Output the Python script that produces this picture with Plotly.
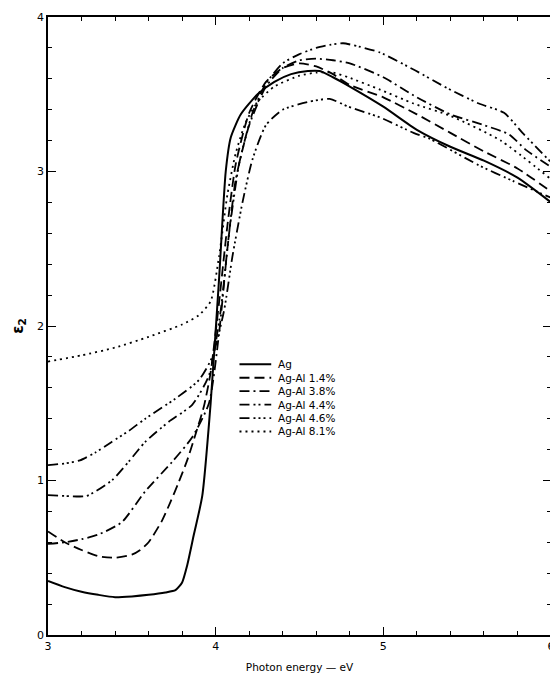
import plotly.graph_objects as go

# ---------------- data ----------------
ag_x = [3.0, 3.1, 3.2, 3.3, 3.4, 3.5, 3.6, 3.7, 3.76, 3.8, 3.83, 3.87, 3.92, 3.97, 4.02, 4.06, 4.09,
        4.15, 4.25, 4.35, 4.45, 4.55, 4.62, 4.7, 4.8, 5.0, 5.2, 5.4, 5.6, 5.8, 6.0]
ag_y = [0.35, 0.31, 0.28, 0.26, 0.245, 0.25, 0.26, 0.275, 0.29, 0.34, 0.45, 0.65, 0.9, 1.5, 2.3, 3.0, 3.22,
        3.37, 3.5, 3.58, 3.63, 3.65, 3.65, 3.61, 3.55, 3.42, 3.27, 3.16, 3.07, 2.96, 2.8]

al14_x = [3.0, 3.1, 3.2, 3.3, 3.4, 3.5, 3.55, 3.6, 3.68, 3.73, 3.78, 3.83, 3.88, 3.93, 3.97, 4.02, 4.07,
          4.12, 4.2, 4.3, 4.4, 4.5, 4.6, 4.7, 4.8, 5.0, 5.2, 5.4, 5.6, 5.8, 6.0]
al14_y = [0.67, 0.6, 0.55, 0.51, 0.5, 0.52, 0.55, 0.6, 0.74, 0.86, 0.99, 1.13, 1.3, 1.48, 1.7, 2.15, 2.65,
          3.05, 3.38, 3.58, 3.67, 3.7, 3.68, 3.63, 3.56, 3.48, 3.37, 3.25, 3.13, 3.02, 2.87]

al38_x = [3.0, 3.1, 3.2, 3.3, 3.44, 3.58, 3.74, 3.86, 3.96, 4.02, 4.07, 4.12, 4.2, 4.3, 4.4, 4.5, 4.6,
          4.7, 4.8, 5.0, 5.2, 5.4, 5.6, 5.75, 5.85, 6.0]
al38_y = [0.59, 0.6, 0.62, 0.65, 0.73, 0.93, 1.12, 1.28, 1.5, 1.95, 2.5, 2.95, 3.3, 3.55, 3.67, 3.72, 3.73,
          3.72, 3.7, 3.61, 3.48, 3.37, 3.3, 3.24, 3.14, 3.03]

al44_x = [3.0, 3.1, 3.23, 3.38, 3.48, 3.58, 3.72, 3.86, 3.96, 4.03, 4.08, 4.14, 4.22, 4.3, 4.4, 4.5, 4.6,
          4.68, 4.76, 4.85, 4.98, 5.18, 5.38, 5.57, 5.72, 5.83, 6.0]
al44_y = [0.905, 0.9, 0.9, 1.0, 1.12, 1.25, 1.38, 1.49, 1.68, 2.1, 2.6, 3.05, 3.38, 3.57, 3.7, 3.76, 3.8,
          3.82, 3.83, 3.81, 3.77, 3.66, 3.54, 3.44, 3.38, 3.25, 3.06]

al46_x = [3.0, 3.1, 3.19, 3.28, 3.38, 3.48, 3.58, 3.76, 3.9, 3.98, 4.05, 4.1, 4.16, 4.22, 4.3, 4.4, 4.55,
          4.68, 4.79, 4.98, 5.18, 5.28, 5.57, 5.77, 6.0]
al46_y = [1.1, 1.11, 1.13, 1.18, 1.25, 1.32, 1.4, 1.53, 1.65, 1.8, 2.1, 2.45, 2.8, 3.08, 3.3, 3.4, 3.45,
          3.47, 3.42, 3.35, 3.25, 3.21, 3.04, 2.94, 2.83]

al81_x = [3.0, 3.2, 3.4, 3.6, 3.8, 3.9, 3.97, 4.02, 4.07, 4.12, 4.18, 4.25, 4.35, 4.5, 4.6, 4.7, 4.79,
          4.98, 5.18, 5.4, 5.7, 6.0]
al81_y = [1.77, 1.81, 1.86, 1.93, 2.01, 2.07, 2.16, 2.45, 2.85, 3.12, 3.32, 3.45, 3.55, 3.62, 3.64, 3.64,
          3.61, 3.53, 3.44, 3.36, 3.2, 2.95]

series_names = ["Ag", "Ag-Al 1.4%", "Ag-Al 3.8%", "Ag-Al 4.4%", "Ag-Al 4.6%", "Ag-Al 8.1%"]
x_ticks = [3, 4, 5, 6]
y_ticks = [0, 1, 2, 3, 4]

# ---------------- figure ----------------
# the page body has an 8px margin, so the figure is drawn 8px in from the window corner
OFF = 8
W, H = 550, 667
L, R, T, B = 40, 3, 8, 38
PW, PH = W - L - R, H - T - B

dashes = ["solid", "10px,5px", "10px,4px,2px,4px", "10px,4px,2px,3px,2px,4px",
          "10px,4px,2px,3px,2px,3px,2px,4px", "2px,4px"]
widths = [2.0, 1.8, 1.8, 1.8, 1.8, 1.8]
data = [(ag_x, ag_y), (al14_x, al14_y), (al38_x, al38_y), (al44_x, al44_y),
        (al46_x, al46_y), (al81_x, al81_y)]

fig = go.Figure()
for (xs, ys), name, d, w in zip(data, series_names, dashes, widths):
    fig.add_trace(go.Scatter(x=xs, y=ys, mode="lines", name=name,
                             line=dict(color="black", width=w, dash=d, shape="spline", smoothing=0.6),
                             showlegend=False))

FONT = "DejaVu Sans, Liberation Sans, Arial, sans-serif"

def px_to_paper_x(px):
    return (px - OFF - L) / PW

def px_to_paper_y(py):
    return (H - B - (py - OFF)) / PH

shapes = []
annotations = []
for i, (name, d, w) in enumerate(zip(series_names, dashes, widths)):
    py = 365 + 13.5 * i
    shapes.append(dict(type="line", xref="paper", yref="paper",
                       x0=px_to_paper_x(241), x1=px_to_paper_x(273),
                       y0=px_to_paper_y(py), y1=px_to_paper_y(py),
                       line=dict(color="black", width=w, dash=d)))
    annotations.append(dict(xref="paper", yref="paper", x=px_to_paper_x(278), y=px_to_paper_y(py),
                            text=name, showarrow=False, xanchor="left", yanchor="middle",
                            font=dict(family=FONT, size=10.5, color="black")))

fig.update_layout(
    width=W, height=H,
    margin=dict(l=L, r=R, t=T, b=B),
    paper_bgcolor="white", plot_bgcolor="white",
    font=dict(family=FONT, size=11, color="black"),
    shapes=shapes, annotations=annotations,
    xaxis=dict(range=[3, 6], tickvals=x_ticks, ticktext=[str(v) for v in x_ticks],
               showgrid=False, zeroline=False, showline=True, linecolor="black", linewidth=1.5,
               mirror="ticks", ticks="inside", ticklen=8, tickwidth=1.3, tickcolor="black",
               minor=dict(dtick=0.2, ticks="inside", ticklen=4, tickwidth=1, tickcolor="black"),
               tickfont=dict(size=11),
               title=dict(text="Photon energy — eV", font=dict(size=10.5), standoff=12)),
    yaxis=dict(range=[0, 4], tickvals=y_ticks, ticktext=[str(v) for v in y_ticks],
               showgrid=False, zeroline=False, showline=True, linecolor="black", linewidth=1.5,
               mirror="ticks", ticks="inside", ticklen=8, tickwidth=1.3, tickcolor="black",
               minor=dict(dtick=0.2, ticks="inside", ticklen=4, tickwidth=1, tickcolor="black"),
               tickfont=dict(size=11),
               title=dict(text="<b>ε<sub>2</sub></b>", font=dict(size=15), standoff=10)),
)

fig.write_html("out.html")
